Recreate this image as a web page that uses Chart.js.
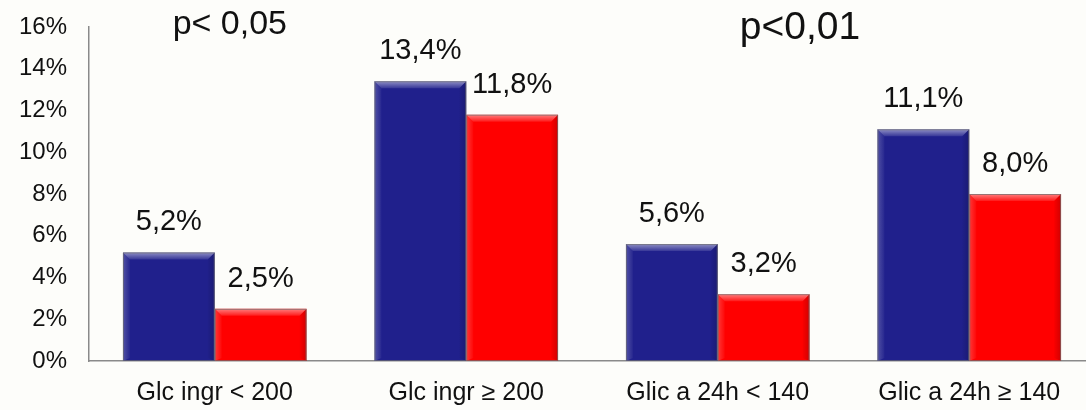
<!DOCTYPE html>
<html>
<head>
<meta charset="utf-8">
<script src="https://cdn.jsdelivr.net/npm/chart.js@4.4.1/dist/chart.umd.min.js"></script>
<style>
  html, body { margin: 0; padding: 0; background: #fdfdfa; overflow: hidden; }
  #wrap { width: 1100px; height: 410px; }
</style>
</head>
<body>
<div id="wrap"><canvas id="glic-chart" width="1100" height="410"></canvas></div>
<script>
// dati
const categorie = ['Glc ingr < 200', 'Glc ingr \u2265 200', 'Glic a 24h < 140', 'Glic a 24h \u2265 140'];
const serieBlu = [5.2, 13.4, 5.6, 11.1];
const serieRossa = [2.5, 11.8, 3.2, 8.0];
const tickY = [0, 2, 4, 6, 8, 10, 12, 14, 16];
const pValori = [
    { testo: 'p< 0,05', pos: 0.06, size: 34, y: 25 },
    { testo: 'p<0,01', pos: 2.327, size: 39, y: 28 }
];

const FONT = '"Liberation Sans", Arial, sans-serif';

function formatPct(v) {
    return v.toFixed(1).replace('.', ',') + '%';
}

// effetto rilievo sulle barre
const bevelPlugin = {
    id: 'bevel',
    afterDatasetsDraw(chart) {
        const ctx = chart.ctx;
        chart.data.datasets.forEach((ds, di) => {
            const meta = chart.getDatasetMeta(di);
            meta.data.forEach(bar => {
                const l = bar.x - bar.width / 2, r = bar.x + bar.width / 2;
                const t = bar.y, b = bar.base;
                const e = 7;
                ctx.save();
                // bordo superiore chiaro
                let g = ctx.createLinearGradient(0, t, 0, t + e);
                g.addColorStop(0, 'rgba(255,255,255,0.5)');
                g.addColorStop(1, 'rgba(255,255,255,0.1)');
                ctx.fillStyle = g;
                ctx.beginPath();
                ctx.moveTo(l, t); ctx.lineTo(r, t); ctx.lineTo(r - e, t + e); ctx.lineTo(l + e, t + e);
                ctx.closePath(); ctx.fill();
                // lato sinistro
                g = ctx.createLinearGradient(l, 0, l + e, 0);
                g.addColorStop(0, 'rgba(255,255,255,0.22)');
                g.addColorStop(1, 'rgba(255,255,255,0.03)');
                ctx.fillStyle = g;
                ctx.beginPath();
                ctx.moveTo(l, t); ctx.lineTo(l + e, t + e); ctx.lineTo(l + e, b - 3); ctx.lineTo(l, b);
                ctx.closePath(); ctx.fill();
                // lato destro
                g = ctx.createLinearGradient(r, 0, r - e, 0);
                g.addColorStop(0, 'rgba(0,0,0,0.18)');
                g.addColorStop(1, 'rgba(0,0,0,0.02)');
                ctx.fillStyle = g;
                ctx.beginPath();
                ctx.moveTo(r, t); ctx.lineTo(r - e, t + e); ctx.lineTo(r - e, b - 3); ctx.lineTo(r, b);
                ctx.closePath(); ctx.fill();
                // contorno
                ctx.strokeStyle = 'rgba(110,110,110,0.7)';
                ctx.lineWidth = 1;
                ctx.strokeRect(l + 0.5, t + 0.5, r - l - 1, b - t - 1);
                ctx.restore();
            });
        });
    }
};

// etichette valori e testo p
const labelPlugin = {
    id: 'etichette',
    afterDraw(chart) {
        const ctx = chart.ctx;
        ctx.save();
        ctx.fillStyle = '#111';
        ctx.textAlign = 'center';
        ctx.textBaseline = 'middle';
        ctx.font = '29px ' + FONT;
        chart.data.datasets.forEach((ds, di) => {
            chart.getDatasetMeta(di).data.forEach((bar, i) => {
                ctx.fillText(formatPct(ds.data[i]), bar.x, bar.y - 30);
            });
        });
        const xs = chart.scales.x;
        pValori.forEach(p => {
            ctx.font = p.size + 'px ' + FONT;
            ctx.fillText(p.testo, xs.getPixelForValue(p.pos), p.y);
        });
        ctx.restore();
    }
};

const ctx = document.getElementById('glic-chart').getContext('2d');
new Chart(ctx, {
    type: 'bar',
    data: {
        labels: categorie,
        datasets: [{
            data: serieBlu,
            backgroundColor: '#20208c'
        }, {
            data: serieRossa,
            backgroundColor: '#ff0000'
        }]
    },
    options: {
        responsive: false,
        animation: false,
        layout: { padding: { left: 0, right: 5, top: 27, bottom: 0 } },
        plugins: {
            legend: { display: false },
            tooltip: { enabled: false }
        },
        datasets: {
            bar: { categoryPercentage: 0.73, barPercentage: 1.0 }
        },
        scales: {
            x: {
                afterFit: s => { s.height = 49; s.paddingLeft = 0; s.paddingRight = 0; },
                grid: { display: false, drawTicks: false },
                border: { display: true, color: '#8a8a8a', width: 1.5 },
                ticks: { color: '#111', font: { family: FONT, size: 25 }, padding: 17, maxRotation: 0 }
            },
            y: {
                min: 0,
                max: 16,
                afterFit: s => { s.width = 89; s.paddingTop = 0; s.paddingBottom = 0; },
                afterBuildTicks: axis => { axis.ticks = tickY.map(v => ({ value: v })); },
                grid: { display: false, drawTicks: false },
                border: { display: true, color: '#8a8a8a', width: 1.5 },
                ticks: {
                    color: '#111',
                    font: { family: FONT, size: 24 },
                    padding: 22,
                    callback: v => v + '%'
                }
            }
        }
    },
    plugins: [bevelPlugin, labelPlugin]
});
</script>
</body>
</html>
